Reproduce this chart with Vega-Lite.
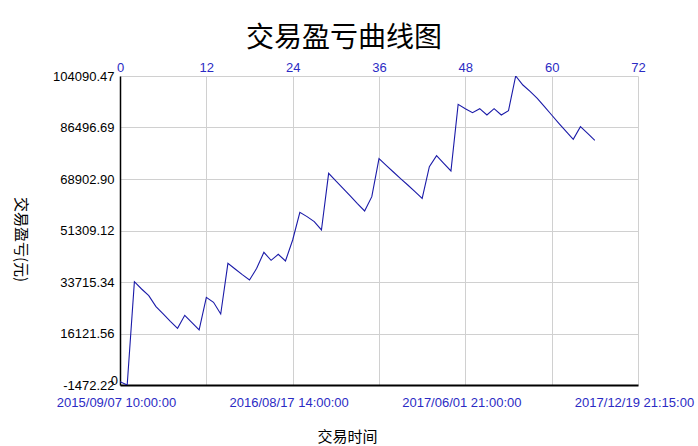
{
  "$schema": "https://vega.github.io/schema/vega-lite/v6.json",
  "autosize": "none",
  "width": 518,
  "height": 309,
  "padding": {"left": 120, "top": 76, "right": 60, "bottom": 61},
  "background": "white",
  "title": {
    "text": "交易盈亏曲线图",
    "font": "Noto Sans CJK SC",
    "fontSize": 28,
    "fontWeight": "normal",
    "color": "#000000",
    "anchor": "middle",
    "frame": "group",
    "dx": -35,
    "offset": 8
  },
  "config": {
    "view": {"stroke": null},
    "axis": {"labelFont": "Liberation Sans", "labelFontSize": 13, "titleFont": "Noto Sans CJK SC", "titleFontWeight": "normal", "titleFontSize": 15, "titleColor": "#000000", "gridColor": "#d0d0d0", "gridOpacity": 1, "ticks": false, "labelOverlap": false}
  },
  "datasets": {
    "pnl": [
      {"i": 0, "v": -328}, {"i": 1, "v": -1472}, {"i": 2, "v": 33833}, {"i": 3, "v": 31328},
      {"i": 4, "v": 29050}, {"i": 5, "v": 25293}, {"i": 6, "v": 22788}, {"i": 7, "v": 20283},
      {"i": 8, "v": 17889}, {"i": 9, "v": 22331}, {"i": 10, "v": 19826}, {"i": 11, "v": 17321},
      {"i": 12, "v": 28480}, {"i": 13, "v": 26772}, {"i": 14, "v": 22788}, {"i": 15, "v": 40097},
      {"i": 16, "v": 38161}, {"i": 17, "v": 36225}, {"i": 18, "v": 34403}, {"i": 19, "v": 38389},
      {"i": 20, "v": 43855}, {"i": 21, "v": 41122}, {"i": 22, "v": 43172}, {"i": 23, "v": 40894},
      {"i": 24, "v": 48070}, {"i": 25, "v": 57521}, {"i": 26, "v": 56041}, {"i": 27, "v": 54332},
      {"i": 28, "v": 51486}, {"i": 29, "v": 70841}, {"i": 30, "v": 68222}, {"i": 31, "v": 65717},
      {"i": 32, "v": 63098}, {"i": 33, "v": 60478}, {"i": 34, "v": 57973}, {"i": 35, "v": 62869},
      {"i": 36, "v": 75850}, {"i": 37, "v": 73573}, {"i": 38, "v": 71295}, {"i": 39, "v": 69018},
      {"i": 40, "v": 66854}, {"i": 41, "v": 64577}, {"i": 42, "v": 62300}, {"i": 43, "v": 73118},
      {"i": 44, "v": 76876}, {"i": 45, "v": 74257}, {"i": 46, "v": 71636}, {"i": 47, "v": 94411},
      {"i": 48, "v": 92931}, {"i": 49, "v": 91565}, {"i": 50, "v": 92931}, {"i": 51, "v": 90768},
      {"i": 52, "v": 92931}, {"i": 53, "v": 90768}, {"i": 54, "v": 92248}, {"i": 55, "v": 104090},
      {"i": 56, "v": 101016}, {"i": 57, "v": 98852}, {"i": 58, "v": 96461}, {"i": 59, "v": 93614},
      {"i": 60, "v": 90768}, {"i": 61, "v": 87921}, {"i": 62, "v": 85188}, {"i": 63, "v": 82455},
      {"i": 64, "v": 86782}, {"i": 65, "v": 84505}, {"i": 66, "v": 82114}
    ],
    "zero": [{"i": 0, "v": -1472.22, "t": "0"}]
  },
  "layer": [
    {
      "data": {"name": "pnl"},
      "mark": {"type": "line", "color": "#1a1aa8", "strokeWidth": 1.1, "clip": true},
      "encoding": {
        "x": {
          "field": "i", "type": "quantitative",
          "scale": {"domain": [0, 72], "nice": false, "zero": false},
          "axis": {
            "orient": "bottom", "title": "交易时间", "values": [0, 24, 48, 72],
            "labelExpr": "datum.value == 0 ? '2015/09/07 10:00:00' : datum.value == 24 ? '2016/08/17 14:00:00' : datum.value == 48 ? '2017/06/01 21:00:00' : '2017/12/19 21:15:00'",
            "labelColor": "#2b2bc4", "labelOffset": -4, "labelPadding": 11, "labelFlush": false,
            "grid": false, "domainColor": "#000000", "domainWidth": 2,
            "titleX": 227, "titleY": 51, "titleBaseline": "middle", "titleAlign": "center"
          }
        },
        "y": {
          "field": "v", "type": "quantitative",
          "scale": {"domain": [-1472.22, 104090.47], "nice": false, "zero": false},
          "axis": {
            "title": "交易盈亏(元)", "titleAngle": 90, "titleX": -100, "titleY": 163,
            "titleAlign": "center", "titleBaseline": "middle",
            "values": [-1472.22, 16121.56, 33715.34, 51309.12, 68902.90, 86496.69, 104090.47],
            "labelExpr": "replace(format(datum.value, '.2f'), '\u2212', '-')",
            "labelColor": "#000000", "labelPadding": 6, "labelFlush": false,
            "domainColor": "#000000", "domainWidth": 1.5
          }
        }
      }
    },
    {
      "data": {"name": "zero"},
      "mark": {"type": "text", "font": "Liberation Sans", "fontSize": 13, "color": "#000000", "align": "right", "baseline": "bottom", "dx": -2, "dy": 3},
      "encoding": {
        "x": {
          "field": "i", "type": "quantitative",
          "axis": {
            "orient": "top", "title": null, "values": [0, 12, 24, 36, 48, 60, 72],
            "labelColor": "#2b2bc4", "labelPadding": 2, "labelFlush": false, "domain": false, "grid": true
          }
        },
        "y": {"field": "v", "type": "quantitative"},
        "text": {"field": "t"}
      }
    }
  ],
  "resolve": {"axis": {"x": "independent"}}
}
